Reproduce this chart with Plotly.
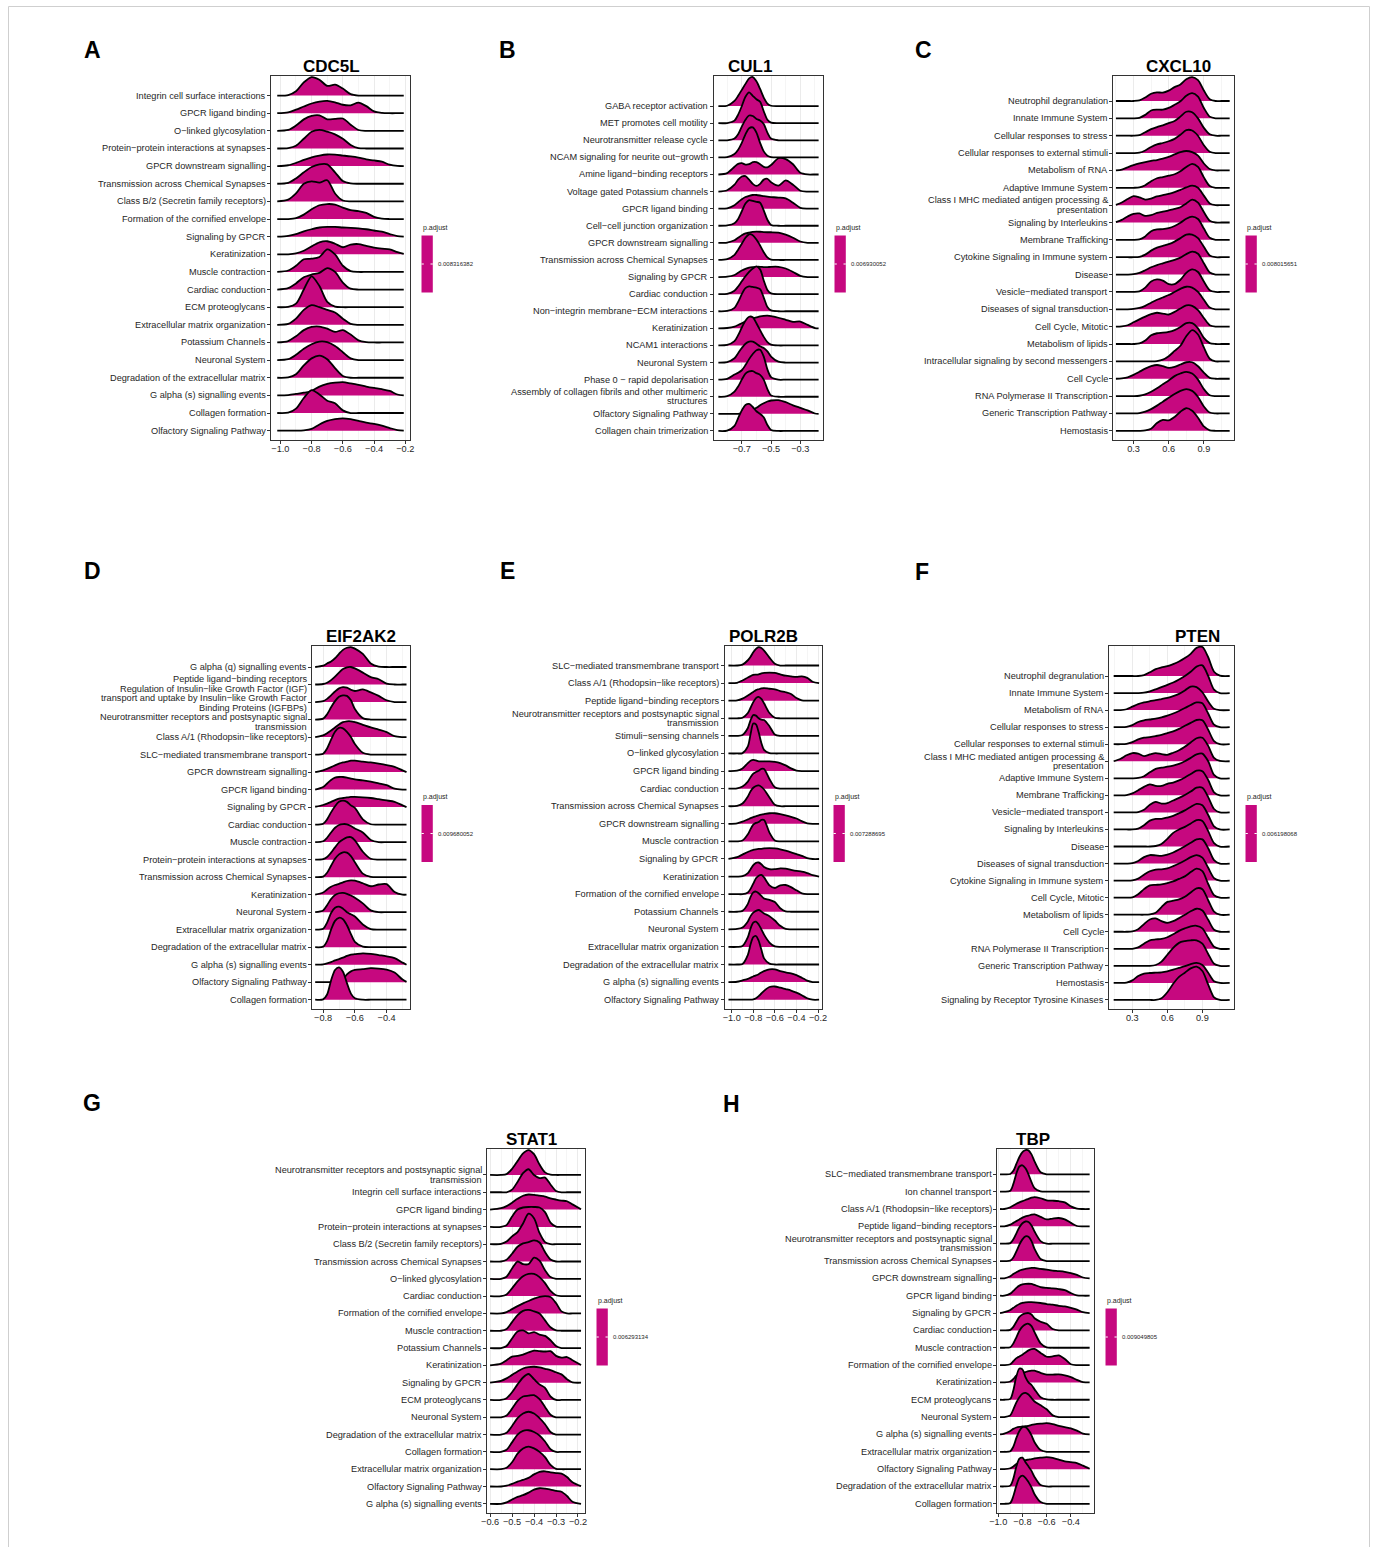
import plotly.graph_objects as go

# ======================= DATA =======================
# Panel A  (CDC5L)
A_gene = "CDC5L"
A_padj = "0.008316382"
A_terms = ["Integrin cell surface interactions", "GPCR ligand binding", "O−linked glycosylation",
           "Protein−protein interactions at synapses", "GPCR downstream signalling",
           "Transmission across Chemical Synapses", "Class B/2 (Secretin family receptors)",
           "Formation of the cornified envelope", "Signaling by GPCR", "Keratinization",
           "Muscle contraction", "Cardiac conduction", "ECM proteoglycans",
           "Extracellular matrix organization", "Potassium Channels", "Neuronal System",
           "Degradation of the extracellular matrix", "G alpha (s) signalling events",
           "Collagen formation", "Olfactory Signaling Pathway"]
A_x = [-1.02, -0.95, -0.90, -0.85, -0.80, -0.75, -0.70, -0.65, -0.60, -0.55, -0.50, -0.45, -0.40, -0.35, -0.30, -0.25, -0.21]
A_dens = [
    [0, .03, .25, .75, 1.05, .90, .55, .62, .40, .08, 0, 0, 0, 0, 0, 0, 0],
    [0, .05, .20, .38, .55, .66, .70, .62, .48, .45, .60, .40, .10, .02, 0, 0, 0],
    [0, .05, .30, .65, .85, .88, .65, .68, .70, .35, .05, 0, 0, 0, 0, 0, 0],
    [0, .02, .15, .55, .95, 1.05, .95, .80, .55, .20, .02, 0, 0, 0, 0, 0, 0],
    [0, .05, .18, .35, .50, .60, .66, .65, .60, .55, .48, .38, .32, .25, .08, .01, 0],
    [0, .05, .30, .65, .95, 1.10, 1.10, .65, .15, .02, 0, 0, 0, 0, 0, 0, 0],
    [0, .10, .45, 1.00, 1.14, 1.06, 1.20, .45, .05, 0, 0, 0, 0, 0, 0, 0, 0],
    [0, 0, .05, .25, .55, .78, .85, .82, .65, .50, .45, .35, .12, .02, 0, 0, 0],
    [0, .05, .15, .30, .42, .52, .55, .55, .52, .50, .47, .42, .35, .28, .15, .03, 0],
    [0, 0, .05, .20, .45, .68, .74, .60, .40, .55, .58, .48, .38, .32, .28, .12, .02],
    [0, .08, .35, .72, .75, .85, 1.28, 1.00, .35, .05, 0, 0, 0, 0, 0, 0, 0],
    [0, .08, .35, .70, .85, .95, 1.22, 1.00, .40, .05, 0, 0, 0, 0, 0, 0, 0],
    [0, .02, .20, 1.00, 1.75, 1.20, .30, .03, 0, 0, 0, 0, 0, 0, 0, 0, 0],
    [0, .05, .35, .85, 1.12, 1.00, .85, .70, .35, .05, 0, 0, 0, 0, 0, 0, 0],
    [0, .08, .35, .70, .88, .90, .78, .60, .70, .45, .12, .02, 0, 0, 0, 0, 0],
    [0, .05, .30, .65, .90, 1.05, 1.02, .80, .45, .10, 0, 0, 0, 0, 0, 0, 0],
    [0, .02, .20, .70, 1.10, 1.25, 1.05, .55, .10, 0, 0, 0, 0, 0, 0, 0, 0],
    [0, .02, .08, .15, .25, .50, .65, .72, .75, .68, .60, .50, .42, .35, .25, .05, 0],
    [0, .02, .25, .85, 1.30, 1.05, .70, .55, .15, 0, 0, 0, 0, 0, 0, 0, 0],
    [0, 0, 0, .02, .10, .35, .55, .65, .70, .65, .55, .45, .38, .28, .15, .03, 0],
]

# Panel B  (CUL1)
B_gene = "CUL1"
B_padj = "0.006930052"
B_terms = ["GABA receptor activation", "MET promotes cell motility", "Neurotransmitter release cycle",
           "NCAM signaling for neurite out−growth", "Amine ligand−binding receptors",
           "Voltage gated Potassium channels", "GPCR ligand binding", "Cell−cell junction organization",
           "GPCR downstream signalling", "Transmission across Chemical Synapses", "Signaling by GPCR",
           "Cardiac conduction", "Non−integrin membrane−ECM interactions", "Keratinization",
           "NCAM1 interactions", "Neuronal System", "Phase 0 − rapid depolarisation",
           "Assembly of collagen fibrils and other multimeric<br>structures",
           "Olfactory Signaling Pathway", "Collagen chain trimerization"]
B_x = [-0.86, -0.80, -0.75, -0.725, -0.70, -0.675, -0.65, -0.625, -0.60, -0.575, -0.55, -0.525, -0.50, -0.45, -0.40, -0.35, -0.30, -0.25, -0.20, -0.175]
B_dens = [
    [0, .02, .30, .60, .95, 1.30, 1.62, 1.70, 1.45, 1.00, .50, .15, .02, 0, 0, 0, 0, 0, 0, 0],
    [0, .01, .15, .50, 1.00, 1.55, 1.80, 1.60, 1.40, 1.25, .70, .20, .03, 0, 0, 0, 0, 0, 0, 0],
    [0, 0, .10, .35, .80, 1.20, 1.45, 1.42, 1.25, 1.15, .95, .45, .10, 0, 0, 0, 0, 0, 0, 0],
    [0, .02, .20, .45, .85, 1.35, 1.70, 1.75, 1.45, .85, .35, .10, .02, 0, 0, 0, 0, 0, 0, 0],
    [0, .08, .45, .62, .66, .58, .60, .72, .72, .60, .45, .42, .55, .95, .90, .60, .10, 0, 0, 0],
    [0, .08, .40, .70, .88, .90, .70, .45, .33, .45, .70, .75, .55, .35, .65, .40, .05, 0, 0, 0],
    [0, .02, .20, .38, .55, .68, .75, .80, .80, .77, .73, .70, .68, .65, .60, .35, .05, 0, 0, 0],
    [0, .02, .15, .40, .85, 1.30, 1.50, 1.45, 1.40, 1.35, .90, .35, .05, 0, 0, 0, 0, 0, 0, 0],
    [0, .02, .15, .30, .45, .55, .60, .64, .66, .65, .63, .62, .62, .60, .48, .30, .08, 0, 0, 0],
    [0, .05, .30, .60, .95, 1.30, 1.50, 1.45, 1.20, .85, .45, .15, .02, 0, 0, 0, 0, 0, 0, 0],
    [0, .02, .12, .25, .38, .48, .55, .58, .60, .60, .58, .58, .60, .60, .50, .30, .07, 0, 0, 0],
    [0, .02, .20, .45, .75, 1.05, 1.30, 1.50, 1.62, 1.45, .80, .25, .05, 0, 0, 0, 0, 0, 0, 0],
    [0, .02, .20, .55, 1.00, 1.35, 1.45, 1.42, 1.38, 1.30, .80, .25, .05, 0, 0, 0, 0, 0, 0, 0],
    [0, .02, .10, .20, .30, .40, .50, .58, .64, .70, .73, .74, .72, .62, .50, .38, .40, .20, .02, 0],
    [0, .03, .25, .60, 1.05, 1.45, 1.68, 1.65, 1.30, .90, .50, .20, .05, 0, 0, 0, 0, 0, 0, 0],
    [0, .03, .25, .55, .85, 1.10, 1.22, 1.22, 1.10, .95, .85, .65, .35, .05, 0, 0, 0, 0, 0, 0],
    [0, .05, .30, .40, .55, .85, 1.20, 1.50, 1.72, 1.75, 1.35, .60, .15, 0, 0, 0, 0, 0, 0, 0],
    [0, .03, .30, .60, 1.00, 1.35, 1.48, 1.50, 1.38, 1.28, 1.00, .45, .08, 0, 0, 0, 0, 0, 0, 0],
    [0, 0, 0, 0, .02, .05, .12, .22, .35, .50, .62, .72, .78, .80, .68, .50, .35, .20, .02, 0],
    [0, .02, .30, .75, 1.20, 1.52, 1.58, 1.40, 1.15, 1.00, .80, .35, .05, 0, 0, 0, 0, 0, 0, 0],
]

# Panel C  (CXCL10)
C_gene = "CXCL10"
C_padj = "0.008015651"
C_terms = ["Neutrophil degranulation", "Innate Immune System", "Cellular responses to stress",
           "Cellular responses to external stimuli", "Metabolism of RNA", "Adaptive Immune System",
           "Class I MHC mediated antigen processing &<br>presentation", "Signaling by Interleukins",
           "Membrane Trafficking", "Cytokine Signaling in Immune system", "Disease",
           "Vesicle−mediated transport", "Diseases of signal transduction", "Cell Cycle, Mitotic",
           "Metabolism of lipids", "Intracellular signaling by second messengers", "Cell Cycle",
           "RNA Polymerase II Transcription", "Generic Transcription Pathway", "Hemostasis"]
C_x = [0.15, 0.2, 0.25, 0.3, 0.35, 0.4, 0.45, 0.5, 0.55, 0.6, 0.65, 0.7, 0.75, 0.8, 0.85, 0.9, 0.95, 1.0, 1.05, 1.12]
C_dens = [
    [0, 0, 0, 0, .03, .20, .42, .50, .48, .60, .80, .95, 1.25, 1.38, 1.20, .60, .10, 0, 0, 0],
    [0, 0, 0, 0, .03, .20, .45, .50, .50, .60, .78, .98, 1.30, 1.45, 1.25, .60, .10, 0, 0, 0],
    [0, 0, 0, 0, .03, .20, .38, .50, .60, .72, .85, 1.10, 1.38, 1.35, 1.00, .45, .08, 0, 0, 0],
    [0, 0, 0, 0, .02, .15, .35, .50, .58, .68, .82, 1.05, 1.32, 1.30, 1.00, .45, .08, 0, 0, 0],
    [0, .05, .18, .30, .40, .48, .55, .60, .68, .78, .92, 1.05, 1.12, 1.05, .85, .40, .08, 0, 0, 0],
    [0, 0, 0, 0, .02, .15, .38, .55, .62, .70, .78, .95, 1.20, 1.38, 1.20, .60, .10, 0, 0, 0],
    [.02, .15, .35, .52, .45, .32, .38, .50, .58, .65, .75, .88, 1.02, 1.12, 1.00, .55, .10, 0, 0, 0],
    [.02, .15, .35, .50, .52, .38, .42, .55, .62, .70, .78, .88, 1.10, 1.32, 1.15, .60, .10, 0, 0, 0],
    [0, 0, 0, 0, .03, .20, .50, .60, .62, .68, .80, .98, 1.22, 1.34, 1.20, .65, .12, 0, 0, 0],
    [0, 0, 0, 0, .02, .15, .38, .55, .65, .75, .90, 1.10, 1.30, 1.30, 1.10, .60, .10, 0, 0, 0],
    [0, 0, 0, .02, .10, .25, .42, .55, .65, .75, .85, .98, 1.18, 1.32, 1.20, .65, .12, 0, 0, 0],
    [0, 0, 0, 0, .03, .25, .60, .72, .65, .45, .45, .70, 1.10, 1.30, 1.15, .60, .10, 0, 0, 0],
    [0, 0, 0, .02, .08, .20, .38, .55, .68, .82, 1.00, 1.18, 1.30, 1.25, 1.00, .55, .10, 0, 0, 0],
    [0, .02, .08, .25, .42, .58, .72, .80, .75, .70, .85, 1.05, 1.22, 1.20, .95, .50, .08, 0, 0, 0],
    [0, 0, 0, 0, .03, .20, .50, .62, .65, .70, .80, .98, 1.20, 1.20, .90, .35, .05, 0, 0, 0],
    [0, 0, 0, 0, 0, 0, 0, .02, .10, .30, .60, .90, 1.45, 1.80, 1.55, .80, .15, 0, 0, 0],
    [0, .02, .08, .22, .40, .58, .72, .79, .72, .62, .68, .82, .95, .95, .72, .35, .05, 0, 0, 0],
    [0, 0, 0, 0, .02, .10, .25, .45, .68, .90, 1.15, 1.30, 1.40, 1.30, .95, .40, .05, 0, 0, 0],
    [0, 0, 0, 0, .02, .10, .25, .45, .68, .90, 1.12, 1.30, 1.40, 1.30, .95, .40, .05, 0, 0, 0],
    [0, 0, 0, 0, 0, .02, .12, .45, .63, .60, .80, 1.10, 1.30, 1.15, .75, .25, .03, 0, 0, 0],
]

# Panel D  (EIF2AK2)
D_gene = "EIF2AK2"
D_padj = "0.009680052"
D_terms = ["G alpha (q) signalling events", "Peptide ligand−binding receptors",
           "Regulation of Insulin−like Growth Factor (IGF)<br>transport and uptake by Insulin−like Growth Factor<br>Binding Proteins (IGFBPs)",
           "Neurotransmitter receptors and postsynaptic signal<br>transmission",
           "Class A/1 (Rhodopsin−like receptors)", "SLC−mediated transmembrane transport",
           "GPCR downstream signalling", "GPCR ligand binding", "Signaling by GPCR", "Cardiac conduction",
           "Muscle contraction", "Protein−protein interactions at synapses",
           "Transmission across Chemical Synapses", "Keratinization", "Neuronal System",
           "Extracellular matrix organization", "Degradation of the extracellular matrix",
           "G alpha (s) signalling events", "Olfactory Signaling Pathway", "Collagen formation"]
D_x = [-0.85, -0.80, -0.775, -0.75, -0.725, -0.70, -0.675, -0.65, -0.625, -0.60, -0.55, -0.50, -0.45, -0.40, -0.35, -0.30, -0.275]
D_dens = [
    [0, .08, .20, .32, .50, .75, .98, 1.10, 1.14, 1.05, .75, .20, .02, 0, 0, 0, 0],
    [0, .03, .10, .25, .45, .68, .88, .98, 1.00, .92, .68, .42, .30, .05, 0, 0, 0],
    [0, .05, .18, .38, .60, .78, .85, .82, .70, .63, .72, .55, .35, .10, 0, 0, 0],
    [0, .05, .30, .70, 1.05, 1.30, 1.38, 1.35, 1.10, .60, .08, 0, 0, 0, 0, 0, 0],
    [0, .10, .22, .38, .55, .72, .85, .90, .90, .85, .70, .55, .42, .28, .05, 0, 0],
    [0, .05, .35, .85, 1.30, 1.52, 1.50, 1.30, 1.00, .60, .10, 0, 0, 0, 0, 0, 0],
    [0, .10, .18, .28, .38, .48, .55, .60, .65, .65, .60, .55, .48, .40, .30, .10, 0],
    [0, .15, .35, .55, .68, .72, .72, .68, .62, .58, .52, .45, .35, .25, .05, 0, 0],
    [.02, .12, .20, .30, .40, .48, .52, .55, .58, .58, .56, .52, .45, .38, .30, .10, 0],
    [0, .05, .30, .70, 1.05, 1.30, 1.37, 1.30, 1.10, .95, .30, .02, 0, 0, 0, 0, 0],
    [0, .05, .25, .55, .82, .98, 1.03, 1.02, .92, .78, .55, .12, 0, 0, 0, 0, 0],
    [0, .03, .15, .40, .70, .98, 1.15, 1.27, 1.28, 1.10, .45, .05, 0, 0, 0, 0, 0],
    [0, .03, .25, .65, 1.05, 1.30, 1.42, 1.40, 1.20, .85, .20, .02, 0, 0, 0, 0, 0],
    [0, .12, .30, .45, .55, .62, .70, .78, .82, .80, .65, .48, .58, .60, .15, 0, 0],
    [0, .10, .40, .75, .98, 1.08, 1.10, 1.05, .95, .82, .50, .10, 0, 0, 0, 0, 0],
    [0, .05, .40, .95, 1.25, 1.32, 1.20, 1.00, .88, .75, .30, .03, 0, 0, 0, 0, 0],
    [0, .03, .35, 1.00, 1.50, 1.68, 1.60, 1.25, .75, .30, .03, 0, 0, 0, 0, 0, 0],
    [0, .02, .08, .15, .25, .32, .40, .50, .58, .60, .65, .62, .55, .48, .38, .12, 0],
    [0, 0, 0, 0, 0, .02, .15, .45, .62, .70, .75, .80, .78, .72, .55, .15, .02],
    [0, .02, .30, 1.10, 1.70, 1.85, 1.60, .95, .35, .08, 0, 0, 0, 0, 0, 0, 0],
]

# Panel E  (POLR2B)
E_gene = "POLR2B"
E_padj = "0.007288695"
E_terms = ["SLC−mediated transmembrane transport", "Class A/1 (Rhodopsin−like receptors)",
           "Peptide ligand−binding receptors",
           "Neurotransmitter receptors and postsynaptic signal<br>transmission",
           "Stimuli−sensing channels", "O−linked glycosylation", "GPCR ligand binding",
           "Cardiac conduction", "Transmission across Chemical Synapses", "GPCR downstream signalling",
           "Muscle contraction", "Signaling by GPCR", "Keratinization",
           "Formation of the cornified envelope", "Potassium Channels", "Neuronal System",
           "Extracellular matrix organization", "Degradation of the extracellular matrix",
           "G alpha (s) signalling events", "Olfactory Signaling Pathway"]
E_x = [-1.03, -0.95, -0.90, -0.85, -0.825, -0.80, -0.775, -0.75, -0.725, -0.70, -0.65, -0.60, -0.55, -0.50, -0.45, -0.40, -0.35, -0.30, -0.25, -0.19]
E_dens = [
    [0, 0, .05, .30, .50, .75, .95, 1.05, 1.00, .85, .45, .10, 0, 0, 0, 0, 0, 0, 0, 0],
    [0, .02, .15, .32, .40, .47, .48, .50, .55, .58, .60, .58, .50, .42, .38, .35, .38, .30, .08, 0],
    [0, .02, .12, .30, .40, .50, .60, .65, .70, .72, .68, .65, .55, .48, .38, .15, .02, 0, 0, 0],
    [0, 0, .03, .30, .60, .92, 1.15, 1.22, 1.10, .85, .30, .03, 0, 0, 0, 0, 0, 0, 0, 0],
    [0, 0, .05, .45, .90, 1.18, 1.15, 1.00, .92, .90, .55, .08, 0, 0, 0, 0, 0, 0, 0, 0],
    [0, 0, .02, .40, 1.10, 1.70, 1.65, 1.20, .60, .20, .02, 0, 0, 0, 0, 0, 0, 0, 0, 0],
    [0, .02, .15, .45, .58, .63, .60, .55, .55, .55, .55, .52, .45, .32, .15, .03, 0, 0, 0, 0],
    [0, .02, .12, .40, .65, .85, .95, 1.02, 1.12, 1.12, .55, .08, 0, 0, 0, 0, 0, 0, 0, 0],
    [0, .02, .15, .55, .85, 1.05, 1.15, 1.18, 1.10, .95, .50, .08, 0, 0, 0, 0, 0, 0, 0, 0],
    [0, .03, .12, .25, .32, .38, .43, .48, .52, .55, .60, .60, .55, .48, .40, .30, .15, .03, 0, 0],
    [0, 0, .05, .40, .70, .95, 1.05, 1.10, 1.22, 1.22, .50, .05, 0, 0, 0, 0, 0, 0, 0, 0],
    [0, .10, .25, .40, .47, .52, .55, .57, .58, .60, .62, .60, .55, .47, .38, .28, .18, .05, 0, 0],
    [0, 0, .02, .20, .42, .65, .78, .80, .70, .55, .42, .42, .47, .45, .38, .32, .28, .20, .08, 0],
    [0, 0, 0, .10, .30, .60, .90, 1.05, 1.10, .95, .50, .35, .50, .52, .40, .22, .05, 0, 0, 0],
    [0, 0, .05, .45, .85, 1.10, 1.15, 1.05, .90, .75, .68, .55, .20, .02, 0, 0, 0, 0, 0, 0],
    [0, .02, .10, .45, .75, .95, 1.05, 1.10, 1.02, .90, .75, .50, .20, .02, 0, 0, 0, 0, 0, 0],
    [0, 0, .05, .55, 1.05, 1.38, 1.44, 1.28, 1.00, .70, .25, .03, 0, 0, 0, 0, 0, 0, 0, 0],
    [0, 0, .03, .55, 1.15, 1.55, 1.62, 1.35, .85, .35, .05, 0, 0, 0, 0, 0, 0, 0, 0, 0],
    [0, .02, .10, .18, .25, .32, .38, .45, .55, .62, .72, .72, .62, .55, .50, .40, .25, .08, 0, 0],
    [0, 0, 0, 0, 0, .02, .08, .20, .35, .50, .72, .75, .68, .60, .52, .40, .25, .08, 0, 0],
]

# Panel F  (PTEN)
F_gene = "PTEN"
F_padj = "0.006198068"
F_terms = ["Neutrophil degranulation", "Innate Immune System", "Metabolism of RNA",
           "Cellular responses to stress", "Cellular responses to external stimuli",
           "Class I MHC mediated antigen processing &<br>presentation", "Adaptive Immune System",
           "Membrane Trafficking", "Vesicle−mediated transport", "Signaling by Interleukins", "Disease",
           "Diseases of signal transduction", "Cytokine Signaling in Immune system", "Cell Cycle, Mitotic",
           "Metabolism of lipids", "Cell Cycle", "RNA Polymerase II Transcription",
           "Generic Transcription Pathway", "Hemostasis", "Signaling by Receptor Tyrosine Kinases"]
F_x = [0.14, 0.2, 0.25, 0.3, 0.35, 0.4, 0.45, 0.5, 0.55, 0.6, 0.65, 0.7, 0.75, 0.8, 0.85, 0.9, 0.95, 1.0, 1.05, 1.134]
F_dens = [
    [0, 0, 0, 0, 0, .05, .22, .40, .50, .58, .70, .85, 1.05, 1.30, 1.65, 1.70, 1.10, .25, .02, 0],
    [0, 0, 0, 0, 0, .02, .10, .22, .35, .48, .62, .80, 1.00, 1.25, 1.55, 1.62, 1.00, .20, 0, 0],
    [0, 0, .05, .20, .35, .45, .52, .58, .65, .72, .82, .95, 1.15, 1.38, 1.35, 1.05, .50, .08, 0, 0],
    [0, 0, .02, .12, .30, .40, .45, .50, .58, .68, .80, .95, 1.12, 1.30, 1.45, 1.40, .80, .15, 0, 0],
    [0, 0, .02, .12, .28, .38, .42, .48, .55, .65, .75, .90, 1.08, 1.25, 1.42, 1.40, .85, .18, 0, 0],
    [0, .15, .35, .48, .45, .30, .40, .48, .42, .38, .50, .65, .85, 1.10, 1.35, 1.38, .90, .20, .02, 0],
    [0, 0, 0, 0, .02, .12, .35, .55, .62, .68, .75, .85, 1.00, 1.20, 1.40, 1.45, 1.00, .20, 0, 0],
    [0, 0, .02, .12, .30, .50, .65, .55, .55, .68, .75, .88, 1.05, 1.25, 1.45, 1.42, .90, .18, 0, 0],
    [0, 0, 0, 0, .02, .15, .45, .62, .52, .55, .70, .85, 1.02, 1.22, 1.45, 1.45, .90, .20, 0, 0],
    [0, 0, 0, 0, .05, .25, .52, .62, .62, .70, .80, .95, 1.12, 1.32, 1.50, 1.42, .85, .18, 0, 0],
    [0, 0, 0, 0, 0, 0, 0, .03, .15, .45, .80, 1.00, 1.15, 1.35, 1.55, 1.50, .90, .20, 0, 0],
    [0, 0, 0, .02, .15, .38, .50, .48, .45, .52, .65, .82, 1.02, 1.22, 1.42, 1.42, .90, .20, 0, 0],
    [0, 0, 0, .02, .12, .35, .55, .65, .66, .72, .85, 1.00, 1.18, 1.38, 1.50, 1.35, .75, .15, 0, 0],
    [0, 0, 0, .02, .20, .50, .72, .75, .78, .85, .95, 1.10, 1.25, 1.50, 1.70, 1.55, .80, .15, 0, 0],
    [0, 0, 0, 0, 0, 0, .02, .12, .45, .75, .82, .90, 1.05, 1.30, 1.55, 1.50, .85, .18, 0, 0],
    [0, 0, 0, .02, .15, .45, .72, .78, .62, .52, .62, .80, 1.00, 1.20, 1.35, 1.25, .70, .12, 0, 0],
    [0, 0, 0, 0, .08, .30, .50, .55, .58, .68, .85, 1.05, 1.20, 1.32, 1.35, 1.20, .65, .12, 0, 0],
    [0, 0, 0, 0, 0, 0, 0, .05, .25, .65, 1.05, 1.35, 1.45, 1.50, 1.50, 1.30, .70, .12, 0, 0],
    [0, 0, .02, .15, .40, .55, .58, .60, .62, .68, .78, .88, .98, 1.10, 1.17, 1.05, .60, .10, 0, 0],
    [0, 0, 0, 0, 0, 0, 0, 0, .10, .45, .95, 1.35, 1.60, 1.85, 1.95, 1.70, .90, .15, 0, 0],
]

# Panel G  (STAT1)
G_gene = "STAT1"
G_padj = "0.006293134"
G_terms = ["Neurotransmitter receptors and postsynaptic signal<br>transmission",
           "Integrin cell surface interactions", "GPCR ligand binding",
           "Protein−protein interactions at synapses", "Class B/2 (Secretin family receptors)",
           "Transmission across Chemical Synapses", "O−linked glycosylation", "Cardiac conduction",
           "Formation of the cornified envelope", "Muscle contraction", "Potassium Channels",
           "Keratinization", "Signaling by GPCR", "ECM proteoglycans", "Neuronal System",
           "Degradation of the extracellular matrix", "Collagen formation",
           "Extracellular matrix organization", "Olfactory Signaling Pathway",
           "G alpha (s) signalling events"]
G_x = [-0.60, -0.55, -0.525, -0.50, -0.475, -0.45, -0.425, -0.40, -0.375, -0.35, -0.325, -0.30, -0.275, -0.25, -0.225, -0.186]
G_dens = [
    [0, 0, .05, .35, .80, 1.25, 1.44, 1.20, .60, .15, .02, 0, 0, 0, 0, 0],
    [0, 0, 0, .15, .60, 1.10, 1.33, 1.00, .82, .85, .45, .08, 0, 0, 0, 0],
    [0, .08, .20, .40, .62, .80, .87, .85, .80, .75, .65, .58, .52, .48, .30, .02],
    [0, 0, .10, .60, 1.00, 1.12, 1.15, 1.15, 1.12, .85, .25, .02, 0, 0, 0, 0],
    [0, .02, .15, .45, .70, 1.20, 1.76, 1.50, .65, .12, 0, 0, 0, 0, 0, 0],
    [0, 0, .10, .45, .85, 1.05, 1.12, 1.22, 1.10, .55, .12, 0, 0, 0, 0, 0],
    [0, 0, .12, .60, 1.00, .85, .85, 1.22, 1.05, .50, .10, 0, 0, 0, 0, 0],
    [0, 0, .10, .45, .85, 1.15, 1.28, 1.28, 1.10, .75, .30, .05, 0, 0, 0, 0],
    [0, 0, .08, .25, .42, .58, .72, .85, .95, 1.00, .95, .60, .12, 0, 0, 0],
    [0, 0, .10, .50, .90, 1.15, 1.20, 1.12, 1.00, .60, .20, .02, 0, 0, 0, 0],
    [0, 0, .12, .55, .95, 1.02, .85, .92, .78, .70, .45, .12, 0, 0, 0, 0],
    [0, .10, .30, .50, .55, .62, .75, .85, .82, .80, .82, .55, .45, .48, .30, .02],
    [0, .10, .25, .45, .65, .82, .90, .92, .88, .80, .72, .60, .48, .20, .02, 0],
    [0, 0, .10, .45, .90, 1.30, 1.50, 1.20, .90, .70, .20, 0, 0, 0, 0, 0],
    [0, 0, .10, .50, .95, 1.20, 1.25, 1.28, 1.05, .60, .15, 0, 0, 0, 0, 0],
    [0, 0, .10, .50, .95, 1.22, 1.32, 1.22, .95, .60, .15, 0, 0, 0, 0, 0],
    [0, 0, .12, .55, 1.00, 1.22, 1.25, 1.15, .95, .60, .15, 0, 0, 0, 0, 0],
    [0, 0, .08, .40, .90, 1.20, 1.30, 1.20, 1.00, .70, .25, .02, 0, 0, 0, 0],
    [0, 0, .05, .15, .28, .38, .50, .70, .85, .88, .82, .78, .75, .55, .25, .02],
    [0, 0, .08, .25, .40, .50, .65, .82, .90, .88, .82, .75, .70, .45, .12, 0],
]

# Panel H  (TBP)
H_gene = "TBP"
H_padj = "0.009049805"
H_terms = ["SLC−mediated transmembrane transport", "Ion channel transport",
           "Class A/1 (Rhodopsin−like receptors)", "Peptide ligand−binding receptors",
           "Neurotransmitter receptors and postsynaptic signal<br>transmission",
           "Transmission across Chemical Synapses", "GPCR downstream signalling", "GPCR ligand binding",
           "Signaling by GPCR", "Cardiac conduction", "Muscle contraction",
           "Formation of the cornified envelope", "Keratinization", "ECM proteoglycans",
           "Neuronal System", "G alpha (s) signalling events", "Extracellular matrix organization",
           "Olfactory Signaling Pathway", "Degradation of the extracellular matrix", "Collagen formation"]
H_x = [-0.985, -0.95, -0.90, -0.875, -0.85, -0.825, -0.80, -0.775, -0.75, -0.725, -0.70, -0.65, -0.60, -0.55, -0.50, -0.45, -0.40, -0.35, -0.30, -0.245]
H_dens = [
    [0, 0, .02, .20, .60, 1.00, 1.28, 1.40, 1.38, 1.15, .75, .12, 0, 0, 0, 0, 0, 0, 0, 0],
    [0, 0, .05, .45, 1.05, 1.45, 1.52, 1.35, 1.00, .55, .20, .02, 0, 0, 0, 0, 0, 0, 0, 0],
    [0, 0, .10, .20, .30, .38, .45, .52, .58, .65, .69, .62, .50, .48, .45, .38, .15, .02, 0, 0],
    [0, 0, .10, .20, .30, .40, .50, .58, .62, .67, .69, .55, .40, .45, .48, .40, .20, .02, 0, 0],
    [0, 0, .03, .25, .60, .95, 1.18, 1.28, 1.25, 1.05, .70, .15, 0, 0, 0, 0, 0, 0, 0, 0],
    [0, 0, .02, .20, .55, .95, 1.25, 1.42, 1.40, 1.15, .70, .12, 0, 0, 0, 0, 0, 0, 0, 0],
    [0, 0, .12, .25, .35, .45, .50, .55, .58, .60, .60, .55, .50, .45, .42, .38, .30, .20, .05, 0],
    [0, 0, .12, .28, .45, .58, .65, .68, .69, .68, .62, .50, .45, .42, .38, .32, .15, .02, 0, 0],
    [0, .05, .18, .30, .42, .52, .58, .62, .63, .63, .62, .58, .52, .48, .42, .38, .30, .20, .05, 0],
    [0, 0, .03, .20, .50, .78, .92, .98, 1.00, .92, .70, .50, .38, .08, 0, 0, 0, 0, 0, 0],
    [0, 0, .03, .25, .60, .98, 1.22, 1.35, 1.38, 1.25, .90, .25, .02, 0, 0, 0, 0, 0, 0, 0],
    [0, 0, .05, .22, .40, .50, .60, .72, .85, .92, .93, .70, .48, .50, .56, .35, .05, 0, 0, 0],
    [0, 0, .05, .20, .40, .50, .55, .60, .65, .68, .68, .55, .45, .45, .46, .40, .30, .15, .02, 0],
    [0, 0, .05, .55, 1.35, 1.80, 1.75, 1.30, 1.00, .85, .60, .15, .02, 0, 0, 0, 0, 0, 0, 0],
    [0, 0, .10, .45, .85, 1.15, 1.35, 1.40, 1.30, 1.10, .90, .68, .45, .10, 0, 0, 0, 0, 0, 0],
    [0, .05, .20, .32, .40, .44, .46, .48, .50, .55, .58, .62, .65, .60, .50, .42, .35, .22, .05, 0],
    [0, 0, .03, .30, .80, 1.20, 1.42, 1.42, 1.25, .95, .55, .10, 0, 0, 0, 0, 0, 0, 0, 0],
    [0, 0, .05, .15, .30, .40, .48, .52, .55, .58, .62, .66, .69, .65, .55, .45, .40, .35, .20, .02],
    [0, 0, .05, .45, 1.15, 1.60, 1.66, 1.40, 1.15, .90, .55, .08, 0, 0, 0, 0, 0, 0, 0, 0],
    [0, 0, .05, .45, 1.05, 1.50, 1.62, 1.50, 1.25, .95, .55, .10, 0, 0, 0, 0, 0, 0, 0, 0],
]

# x-axis tick labels per panel (major / minor grid)
A_ticks, A_minor = [-1.0, -0.8, -0.6, -0.4, -0.2], [-0.9, -0.7, -0.5, -0.3]
B_ticks, B_minor = [-0.7, -0.5, -0.3], [-0.8, -0.6, -0.4, -0.2]
C_ticks, C_minor = [0.3, 0.6, 0.9], [0.15, 0.45, 0.75, 1.05]
D_ticks, D_minor = [-0.8, -0.6, -0.4], [-0.7, -0.5, -0.3]
E_ticks, E_minor = [-1.0, -0.8, -0.6, -0.4, -0.2], [-0.9, -0.7, -0.5, -0.3]
F_ticks, F_minor = [0.3, 0.6, 0.9], [0.15, 0.45, 0.75, 1.05]
G_ticks, G_minor = [-0.6, -0.5, -0.4, -0.3, -0.2], [-0.55, -0.45, -0.35, -0.25]
H_ticks, H_minor = [-1.0, -0.8, -0.6, -0.4], [-0.9, -0.7, -0.5, -0.3]

# ======================= LAYOUT / STYLE =======================
W, H = 1375, 1547
FILL = "#C6087F"
FONT = "Liberation Sans, Arial, Helvetica, sans-serif"
TXT = "#262626"
LINE_H = 9.5  # px between lines of a wrapped y label

panels = [
    ("A", A_gene, A_padj, A_terms, A_x, A_dens, A_ticks, A_minor),
    ("B", B_gene, B_padj, B_terms, B_x, B_dens, B_ticks, B_minor),
    ("C", C_gene, C_padj, C_terms, C_x, C_dens, C_ticks, C_minor),
    ("D", D_gene, D_padj, D_terms, D_x, D_dens, D_ticks, D_minor),
    ("E", E_gene, E_padj, E_terms, E_x, E_dens, E_ticks, E_minor),
    ("F", F_gene, F_padj, F_terms, F_x, F_dens, F_ticks, F_minor),
    ("G", G_gene, G_padj, G_terms, G_x, G_dens, G_ticks, G_minor),
    ("H", H_gene, H_padj, H_terms, H_x, H_dens, H_ticks, H_minor),
]

# pixel placement of each panel: frame box (l, t, r, b), title centre, letter centre, x range
place = {
    "A": dict(box=(271, 76, 410, 440), title=(331, 67), letter=(92, 50), xr=(-1.06, -0.17)),
    "B": dict(box=(714, 76, 823, 440), title=(750, 67), letter=(507, 50), xr=(-0.89, -0.145)),
    "C": dict(box=(1113, 76, 1234, 440), title=(1178, 67), letter=(923, 50), xr=(0.125, 1.157)),
    "D": dict(box=(312, 646, 410, 1009), title=(361, 636), letter=(92, 571), xr=(-0.87, -0.253),
              nudge={1: 6, 2: 4, 3: -2.5}),
    "E": dict(box=(725, 646, 822, 1009), title=(763, 636), letter=(507, 571), xr=(-1.062, -0.163)),
    "F": dict(box=(1109, 646, 1234, 1009), title=(1197, 636), letter=(922, 572), xr=(0.10, 1.171)),
    "G": dict(box=(487, 1149, 585, 1513), title=(531, 1139), letter=(92, 1103), xr=(-0.614, -0.168)),
    "H": dict(box=(997, 1149, 1094, 1513), title=(1033, 1139), letter=(731, 1104), xr=(-1.01, -0.209)),
}


def fx(px):
    return px / W


def fy(py):
    return 1 - py / H


def fmt(v):
    return f"{v:.1f}".replace("-", "\u2212")


fig = go.Figure()
layout = {}
annotations = []
shapes = [dict(type="rect", xref="paper", yref="paper", x0=fx(8.5), x1=fx(1369.5), y0=-0.01, y1=fy(6.5),
               line=dict(color="#CFCFCF", width=1), fillcolor="rgba(0,0,0,0)", layer="below")]

for i, (key, gene, padj, terms, xg, dens, ticks, minor) in enumerate(panels, start=1):
    p = place[key]
    l, t, r, b = p["box"]
    sfx = "" if i == 1 else str(i)
    xref, yref = "x" + sfx, "y" + sfx
    n = len(terms)
    ytop = max(n - j + max(d) for j, d in enumerate(dens)) + 0.06

    layout["xaxis" + sfx] = dict(
        domain=[fx(l), fx(r)], range=list(p["xr"]), anchor=yref,
        tickmode="array", tickvals=ticks, ticktext=[fmt(v) for v in ticks],
        ticks="outside", ticklen=3, tickwidth=1, tickcolor="#333333", ticklabelstandoff=-3,
        showline=True, linecolor="#333333", linewidth=1, mirror=True,
        showgrid=True, gridcolor="#EBEBEB", gridwidth=1, zeroline=False,
        minor=dict(tickvals=minor, showgrid=True, gridcolor="#F5F5F5", gridwidth=1, ticks=""),
        tickfont=dict(family=FONT, size=9.2, color=TXT), automargin=False, fixedrange=True)
    layout["yaxis" + sfx] = dict(
        domain=[fy(b), fy(t)], range=[0.47, ytop], anchor=xref,
        tickmode="array", tickvals=[n - j for j in range(n)], showticklabels=False,
        ticks="outside", ticklen=3, tickwidth=1, tickcolor="#333333",
        showline=True, linecolor="#333333", linewidth=1, mirror=True,
        showgrid=False, zeroline=False, automargin=False, fixedrange=True)

    # y labels: one annotation per text line, anchored on the row position
    nudge = p.get("nudge", {})
    for j, term in enumerate(terms):
        lines = term.split("<br>")
        m = len(lines)
        for k, line in enumerate(lines):
            annotations.append(dict(
                text=line, xref=xref + " domain", yref=yref, x=0, y=n - j,
                xshift=-4.5, yshift=((m - 1) / 2 - k) * LINE_H + nudge.get(j, 0),
                showarrow=False, xanchor="right", yanchor="middle", borderpad=0,
                font=dict(family=FONT, size=9.2, color=TXT)))

    # ridges: top row first so that lower ridges overlap the ones above
    for j, d in enumerate(dens):
        pos = n - j
        fig.add_trace(go.Scatter(x=xg, y=[pos] * len(xg), mode="lines",
                                 line=dict(width=0, color="rgba(0,0,0,0)"),
                                 hoverinfo="skip", showlegend=False, xaxis=xref, yaxis=yref))
        fig.add_trace(go.Scatter(x=xg, y=[pos + h for h in d], mode="lines",
                                 line=dict(color="black", width=1.8, shape="spline", smoothing=0.8),
                                 fill="tonexty", fillcolor=FILL,
                                 hoverinfo="skip", showlegend=False, xaxis=xref, yaxis=yref))

    # panel letter + gene title
    annotations.append(dict(text=f"<b>{key}</b>", x=fx(p["letter"][0]), y=fy(p["letter"][1]),
                            xref="paper", yref="paper", showarrow=False, xanchor="center", yanchor="middle",
                            font=dict(family=FONT, size=23, color="black")))
    annotations.append(dict(text=f"<b>{gene}</b>", x=fx(p["title"][0]), y=fy(p["title"][1]),
                            xref="paper", yref="paper", showarrow=False, xanchor="center", yanchor="middle",
                            font=dict(family=FONT, size=17, color="black")))

    # p.adjust legend (single-value colour bar)
    bx0 = r + 11.5
    bx1 = bx0 + 11.3
    yc = (t + b) / 2 + 6
    by0, by1 = yc - 28.5, yc + 28.5
    shapes.append(dict(type="rect", xref="paper", yref="paper", x0=fx(bx0), x1=fx(bx1),
                       y0=fy(by1), y1=fy(by0), fillcolor=FILL, line=dict(width=0)))
    for xa, xb in ((bx0, bx0 + 2.3), (bx1 - 2.3, bx1)):
        shapes.append(dict(type="line", xref="paper", yref="paper", x0=fx(xa), x1=fx(xb),
                           y0=fy(yc), y1=fy(yc), line=dict(color="white", width=1)))
    annotations.append(dict(text="p.adjust", x=fx(bx0 - 0.5), y=fy(by0 - 7.5), xref="paper", yref="paper",
                            showarrow=False, xanchor="left", yanchor="middle",
                            font=dict(family=FONT, size=7, color=TXT)))
    annotations.append(dict(text=padj, x=fx(bx1 + 3.5), y=fy(yc), xref="paper", yref="paper",
                            showarrow=False, xanchor="left", yanchor="middle",
                            font=dict(family=FONT, size=6, color=TXT)))

fig.update_layout(
    width=W, height=H, margin=dict(l=0, r=0, t=0, b=0),
    paper_bgcolor="white", plot_bgcolor="white", template="none",
    showlegend=False, annotations=annotations, shapes=shapes,
    font=dict(family=FONT, color=TXT), **layout)

fig.write_html("out.html", include_plotlyjs=True, config={"displayModeBar": False})
